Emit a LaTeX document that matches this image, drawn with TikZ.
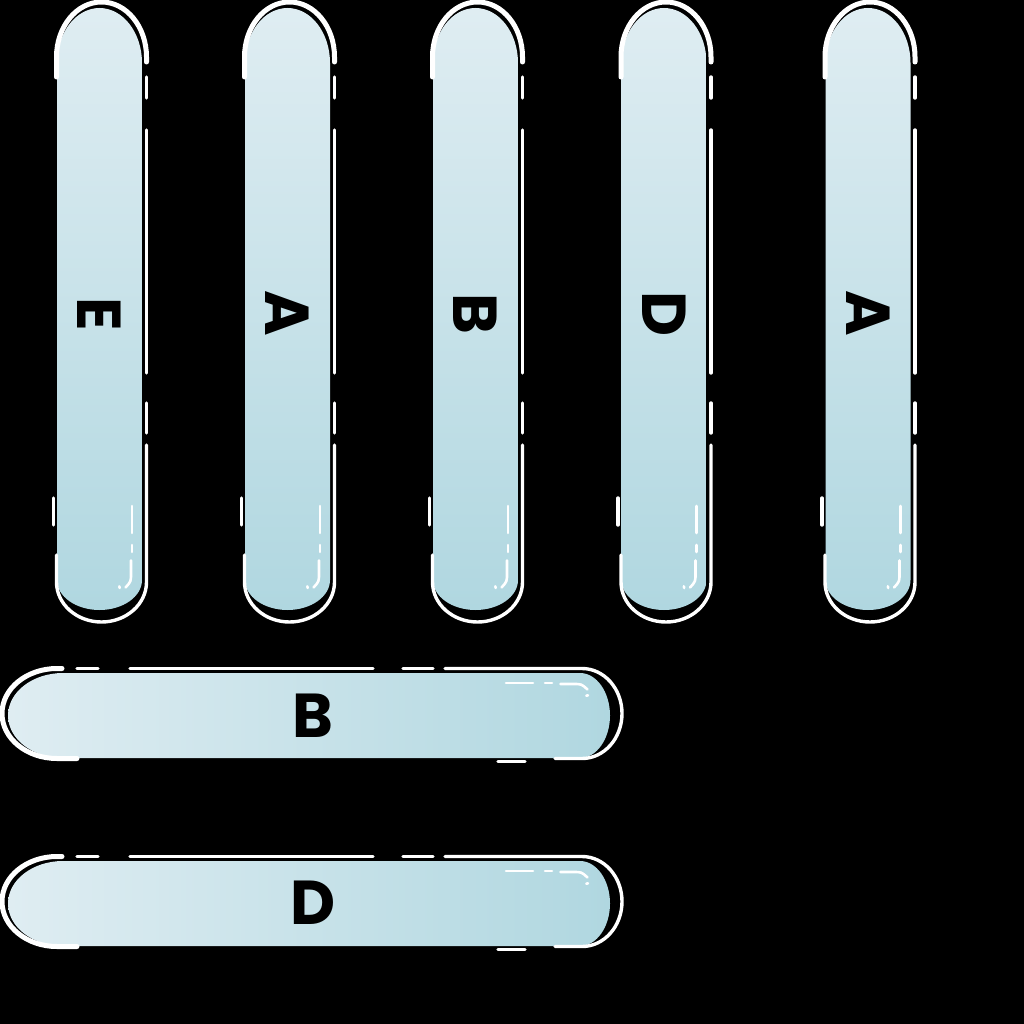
\documentclass[tikz,border=0pt]{standalone}
\usepackage{fontspec}
\setmainfont{Poppins}
\definecolor{pilltop}{HTML}{DFEDF2}
\definecolor{pillbot}{HTML}{B0D7E0}
\tikzset{
  pillshade/.style={top color=pilltop, bottom color=pillbot},
  hpill/.style={rotate=90, pillshade/.style={left color=pilltop, right color=pillbot}},
  outl/.style={draw=white, line width=3.4pt, line cap=round},
  outlthick/.style={outl, line width=5pt},
  shine/.style={draw=white, line width=2.6pt, line cap=round},
  letter/.style={font=\fontsize{62}{62}\selectfont\bfseries, text=black, inner sep=0pt},
  pill/.pic={
    \shade[pillshade, draw=none] (-42.5,-246.5) arc[start angle=180, end angle=360, x radius=42.5, y radius=55]
      -- (42.5,270.5) arc[start angle=0, end angle=180, x radius=42.5, y radius=30] -- cycle;
    \draw[outlthick] (-43,-232.5) -- (-43,-252.5) arc[start angle=180, end angle=360, x radius=45, y radius=55] -- (47,-247.5);
    \draw[outl] (47,-232.5) -- (47,-211.5);
    \draw[outl] (47,-179.5) -- (47,63.5);
    \draw[outl] (47,93.5) -- (47,123.5);
    \draw[outl] (47,135.5) -- (47,272.5) arc[start angle=0, end angle=180, x radius=45, y radius=40] -- (-43,245.5);
    \draw[outl] (-46,188.5) -- (-46,215.5);
    \draw[shine] (32.5,196.5) -- (32.5,223.5);
    \draw[shine] (32.5,235.5) -- (32.5,242.5);
    \draw[shine] (31.5,251) -- (31.5,264) .. controls (31.5,272) .. (26,278);
    \draw[shine] (19.8,276.8) -- (20.2,278.5);
  }
}
\begin{document}
\begin{tikzpicture}[x=1pt,y=-1pt]
\fill[black] (0,0) rectangle (1024,1024);
\useasboundingbox (0,0) rectangle (1024,1024);
% vertical pills
\pic at (99.5,309.5) {pill};
\pic at (287.5,309.5) {pill};
\pic at (475.5,309.5) {pill};
\pic at (664,309.5) {pill};
\pic at (868,309.5) {pill};
% horizontal pills
\pic[hpill] at (309.5,715.5) {pill};
\pic[hpill] at (309.5,903.5) {pill};
% letters
\node[letter, rotate=-90] (l1) at (99.5,314) {E};
\node[letter, rotate=-90] (l2) at (287.5,313) {A};
\node[letter, rotate=-90] (l3) at (475.5,314) {B};
\node[letter, rotate=-90] (l4) at (664,314) {D};
\node[letter, rotate=-90] (l5) at (868,313) {A};
\node[letter] (h1) at (313,716) {B};
\node[letter] (h2) at (313,903) {D};
\end{tikzpicture}
\end{document}
